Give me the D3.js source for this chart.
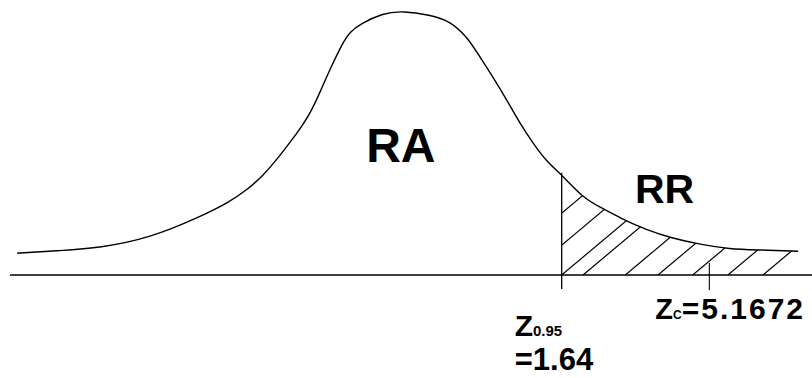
<!DOCTYPE html>
<html>
<head>
<meta charset="utf-8">
<script src="https://cdn.jsdelivr.net/npm/d3@7"></script>
<style>
  html, body { margin: 0; padding: 0; background: #fff; }
  svg { display: block; }
  .lbl { font-family: "Liberation Sans", Arial, sans-serif; font-weight: bold; fill: #000; }
</style>
</head>
<body>
<div class="canva"></div>
<script>
// curva disegnata a mano: ascissa in unita' z, ordinata in densita'
var curveZ = [-11.37, -10.35, -9.39, -8.2, -7.0, -6.29, -5.88, -5.5, -5.09, -4.69, -4.38, -4.14,
  -3.9, -3.59, -3.42, -3.18, -2.63, -2.15, -1.51, -1.03, -0.62, -0.31, 0, 0.33, 0.64, 0.95,
  1.29, 1.64, 2.15, 2.55, 3.08, 3.68, 4.27, 4.9, 5.66, 6.37, 7.29];
var curveD = [0.033, 0.037, 0.041, 0.056, 0.088, 0.111, 0.129, 0.150, 0.181, 0.214, 0.243, 0.276,
  0.311, 0.352, 0.368, 0.380, 0.397, 0.400, 0.394, 0.385, 0.361, 0.330, 0.300, 0.265, 0.230, 0.200,
  0.171, 0.152, 0.117, 0.103, 0.085, 0.068, 0.056, 0.047, 0.039, 0.038, 0.036];

// asse orizzontale (estremi in z)
var axisExtent = [-11.54, 7.62];

// valori critici
var zCrit = 1.64;
var zCalc = 5.1672;

// linee del tratteggio: punto di partenza sull'asse (z)
var hatchStart = [-0.12, 0.79, 1.64, 2.15, 3.16, 3.94, 4.77, 5.61, 6.45];

// etichette delle regioni
var regionNames = ["RA", "RR"];
var regionZ = [-3.03, 3.39];
var regionD = [0.171, 0.109];

var width = 812, height = 378;

var svg = d3.select(".canva")
  .append("svg")
    .attr("width", width)
    .attr("height", height);

var x = d3.scaleLinear()
  .domain(axisExtent)
  .range([10, 812]);

var y = d3.scaleLinear()
  .domain([0, 0.4])
  .range([275, 11]);

var data = curveZ.map(function(z, i) { return {z: z, d: curveD[i]}; });
var tail = data.filter(function(p) { return p.z >= zCrit; });

var line = d3.line()
  .x(function(p) { return x(p.z); })
  .y(function(p) { return y(p.d); })
  .curve(d3.curveBasis);

var area = d3.area()
  .x(function(p) { return x(p.z); })
  .y0(y(0))
  .y1(function(p) { return y(p.d); })
  .curve(d3.curveBasis);

// zona di rifiuto: a destra di zCrit e sotto la curva
svg.append("clipPath")
    .attr("id", "rr")
  .append("rect")
    .attr("x", x(zCrit))
    .attr("y", 0)
    .attr("width", x(axisExtent[1]) - x(zCrit))
    .attr("height", y(0));

svg.append("clipPath")
    .attr("id", "under")
  .append("path")
    .attr("d", area(data));

var slope = Math.tan(40 * Math.PI / 180);
svg.append("g")
    .attr("clip-path", "url(#rr)")
  .append("g")
    .attr("clip-path", "url(#under)")
  .selectAll("line")
  .data(hatchStart)
  .enter()
  .append("line")
    .attr("x1", function(z) { return x(z); })
    .attr("y1", y(0))
    .attr("x2", function(z) { return x(z) + 150; })
    .attr("y2", y(0) - 150 * slope)
    .attr("stroke", "#000")
    .attr("stroke-width", 1.2);

// asse
svg.append("line")
  .attr("x1", x(axisExtent[0]))
  .attr("x2", x(axisExtent[1]))
  .attr("y1", y(0))
  .attr("y2", y(0))
  .attr("stroke", "#000")
  .attr("stroke-width", 1.5);

// curva
svg.append("path")
  .datum(data)
  .attr("d", line)
  .attr("fill", "none")
  .attr("stroke", "#000")
  .attr("stroke-width", 1.4);

// linea del valore critico
svg.append("line")
  .attr("x1", x(zCrit))
  .attr("x2", x(zCrit))
  .attr("y1", y(tail[0].d) - 2)
  .attr("y2", y(0) + 14)
  .attr("stroke", "#000")
  .attr("stroke-width", 1.3);

// tacca di Zc
svg.append("line")
  .attr("x1", x(zCalc))
  .attr("x2", x(zCalc))
  .attr("y1", y(0) - 12)
  .attr("y2", y(0) + 15)
  .attr("stroke", "#000")
  .attr("stroke-width", 1.1);

// etichette RA / RR
svg.selectAll(".region")
  .data(regionNames)
  .enter()
  .append("text")
    .attr("class", "lbl region")
    .attr("x", function(d, i) { return x(regionZ[i]); })
    .attr("y", function(d, i) { return y(regionD[i]); })
    .attr("font-size", function(d, i) { return i == 0 ? 48 : 41; })
    .text(function(d) { return d; });

// Z0.95 = 1.64
var t1 = svg.append("text")
  .attr("class", "lbl")
  .attr("x", x(zCrit) - 47)
  .attr("y", y(0) + 61);
t1.append("tspan").attr("font-size", 30).text("Z");
t1.append("tspan").attr("font-size", 15).text("0.95");

svg.append("text")
  .attr("class", "lbl")
  .attr("x", x(zCrit) - 47)
  .attr("y", y(0) + 95)
  .attr("font-size", 31)
  .text("=" + zCrit.toFixed(2));

// Zc = 5.1672
var t2 = svg.append("text")
  .attr("class", "lbl")
  .attr("x", x(zCalc) - 54)
  .attr("y", y(0) + 44);
t2.append("tspan").attr("font-size", 29).text("Z");
t2.append("tspan").attr("font-size", 12).text("C");
t2.append("tspan").attr("font-size", 30).attr("letter-spacing", 2).text("=" + zCalc);
</script>
</body>
</html>
